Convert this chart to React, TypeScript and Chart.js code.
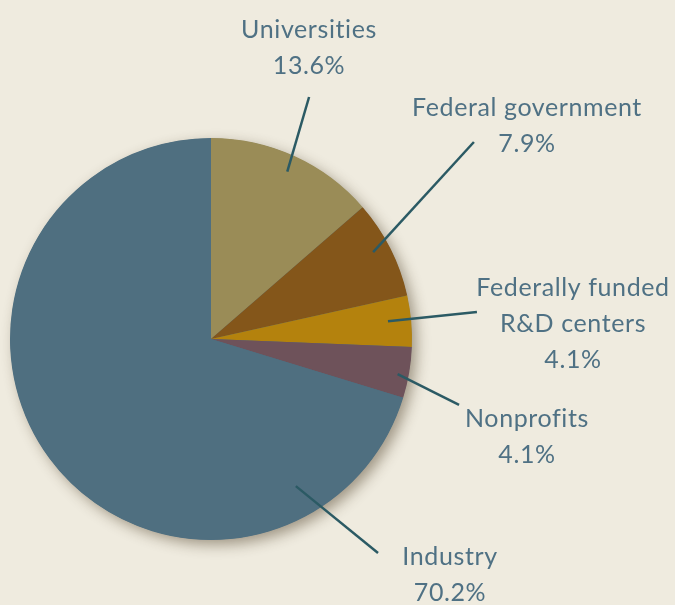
import React, { useEffect, useRef } from "react";
import { Chart, registerables } from "chart.js";

Chart.register(...registerables);

const categories = ["Universities", "Federal government", "Federally funded R&D centers", "Nonprofits", "Industry"];
const shares = [13.6, 7.9, 4.1, 4.1, 70.2];
const labelLines = [["Universities"], ["Federal government"], ["Federally funded", "R&D centers"], ["Nonprofits"], ["Industry"]];
const sliceColors = ["#9a8c57", "#84561a", "#b4820d", "#6e525a", "#4f6f80"];

// leader layout: t = fraction along slice angle, k = radius fraction of start,
// (ex, ey) = end point in radius units from centre, (tx, ty) = text centre x / first baseline in px
const leaderLayout = [
  { t: 0.5, k: 0.915, ex: 0.488, ey: -1.204, tx: 309, ty: 38 },
  { t: 0.45, k: 0.915, ex: 1.308, ey: -0.98, tx: 527, ty: 116 },
  { t: 0.46, k: 0.885, ex: 1.323, ey: -0.134, tx: 573, ty: 296 },
  { t: 0.57, k: 0.945, ex: 1.234, ey: 0.328, tx: 527, ty: 427 },
  { t: 0.17, k: 0.845, ex: 0.831, ey: 1.065, tx: 450, ty: 565 },
];

const BG = "#efebdf";
const FONT = "Lato, 'Open Sans', sans-serif";

const decorPlugin = {
  id: "decor",
  beforeDatasetsDraw(chart: any) {
    const meta = chart.getDatasetMeta(0);
    const arc = meta.data[0];
    if (!arc) return;
    const { x, y, outerRadius } = arc.getProps(["x", "y", "outerRadius"], true);
    const ctx = chart.ctx;
    ctx.save();
    ctx.shadowColor = "rgba(60,45,20,0.45)";
    ctx.shadowBlur = 14;
    ctx.shadowOffsetX = 5;
    ctx.shadowOffsetY = 5;
    ctx.fillStyle = sliceColors[4];
    ctx.beginPath();
    ctx.arc(x, y, outerRadius - 0.5, 0, Math.PI * 2);
    ctx.fill();
    ctx.restore();
  },
  afterDatasetsDraw(chart: any) {
    const meta = chart.getDatasetMeta(0);
    const ctx = chart.ctx;
    ctx.save();
    meta.data.forEach((arc: any, i: number) => {
      const { x, y, startAngle, endAngle, outerRadius } = arc.getProps(
        ["x", "y", "startAngle", "endAngle", "outerRadius"],
        true
      );
      const L = leaderLayout[i];
      const a = startAngle + L.t * (endAngle - startAngle);
      const sx = x + Math.cos(a) * outerRadius * L.k;
      const sy = y + Math.sin(a) * outerRadius * L.k;
      const ex = x + L.ex * outerRadius;
      const ey = y + L.ey * outerRadius;
      ctx.strokeStyle = "#2b5a64";
      ctx.lineWidth = 2.5;
      ctx.lineCap = "butt";
      ctx.beginPath();
      ctx.moveTo(sx, sy);
      ctx.lineTo(ex, ey);
      ctx.stroke();

      ctx.fillStyle = "#4f7184";
      ctx.font = `25px ${FONT}`;
      (ctx as any).letterSpacing = "0.6px";
      ctx.textAlign = "center";
      ctx.textBaseline = "alphabetic";
      const lines = [...labelLines[i], `${shares[i].toFixed(1)}%`];
      lines.forEach((ln, j) => {
        ctx.fillText(ln, L.tx, L.ty + j * 36);
      });
    });
    ctx.restore();
  },
};

export default function App() {
  const ref = useRef<HTMLCanvasElement | null>(null);
  useEffect(() => {
    document.body.style.margin = "0";
    document.body.style.background = BG;
    const chart = new Chart(ref.current as HTMLCanvasElement, {
      type: "pie",
      data: {
        labels: categories,
        datasets: [
          {
            data: shares,
            backgroundColor: sliceColors,
            borderWidth: 0,
          },
        ],
      },
      options: {
        animation: false,
        responsive: false,
        maintainAspectRatio: false,
        layout: { padding: { left: 10, top: 138, right: 263, bottom: 65 } },
        plugins: {
          legend: { display: false },
          tooltip: { enabled: false },
        },
      },
      plugins: [decorPlugin],
    });
    return () => chart.destroy();
  }, []);
  return (
    <div style={{ width: 675, height: 605, background: BG }}>
      <canvas ref={ref} width={675} height={605} style={{ display: "block" }} />
    </div>
  );
}
